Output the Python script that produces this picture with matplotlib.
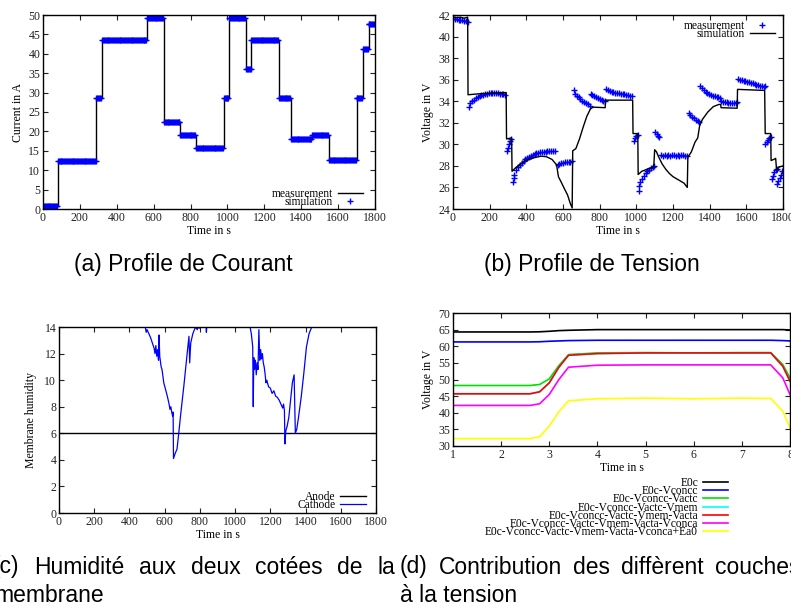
import numpy as np
import matplotlib
matplotlib.use("Agg")
import matplotlib.pyplot as plt
from matplotlib.lines import Line2D

# ---- (a) current profile: step table (start time, current) ----
step_t = [0, 80, 290, 320, 565, 655, 745, 830, 980, 1010, 1100, 1130,
          1280, 1345, 1460, 1550, 1700, 1735, 1765, 1800]
step_i = [0.8, 12.5, 28.5, 43.6, 49.3, 22.3, 19.0, 15.8, 28.5, 49.3, 36.0, 43.6,
          28.7, 18.0, 19.1, 12.6, 28.5, 41.3, 47.8, 47.8]
sim_sample_t = np.arange(0, 1800, 5)

# ---- (b) voltage profile ----
meas_t = [0, 10, 20, 30, 40, 50, 60, 70, 80,
          85, 95, 105, 115, 125, 135, 145, 155, 165, 175, 185, 195, 205, 215, 225, 235, 245, 255, 265, 275, 285,
          292, 298, 304, 310, 316,
          325, 330, 335, 345, 355, 365, 375, 385, 395, 405, 415, 425, 435, 445, 455, 465, 475, 485, 495, 505,
          515, 525, 535, 545, 555,
          570, 580, 590, 600, 610, 620, 630, 640, 650,
          658, 665, 675, 685, 695, 705, 715, 725, 735, 745,
          750, 760, 770, 780, 790, 800, 810, 820, 830,
          835, 845, 855, 865, 875, 885, 895, 905, 915, 925, 935, 945, 955, 965, 975,
          985, 992, 1000, 1008,
          1012, 1016, 1022, 1030, 1040, 1050, 1060, 1070, 1080, 1090, 1098,
          1102, 1110, 1118, 1126,
          1135, 1145, 1155, 1165, 1175, 1185, 1195, 1205, 1215, 1225, 1235, 1245, 1255, 1265, 1275,
          1285, 1295, 1305, 1315, 1325, 1335, 1340,
          1348, 1358, 1368, 1378, 1388, 1398, 1408, 1418, 1428, 1438, 1448, 1458,
          1462, 1472, 1482, 1492, 1502, 1512, 1522, 1532, 1542, 1550,
          1555, 1565, 1575, 1585, 1595, 1605, 1615, 1625, 1635, 1645, 1655, 1665, 1675, 1685, 1695, 1700,
          1703, 1710, 1718, 1726, 1733,
          1738, 1745, 1752, 1760, 1765,
          1768, 1775, 1782, 1790, 1797]
meas_v = [41.65, 41.6, 41.6, 41.55, 41.5, 41.5, 41.45, 41.4, 41.35,
          33.5, 33.8, 34.0, 34.15, 34.3, 34.4, 34.5, 34.55, 34.6, 34.65, 34.7, 34.75, 34.78, 34.8, 34.78, 34.75,
          34.72, 34.7, 34.68, 34.65, 34.6,
          29.4, 29.7, 30.0, 30.3, 30.5,
          26.5, 26.9, 27.2, 27.6, 27.9, 28.1, 28.3, 28.5, 28.6, 28.75, 28.85, 28.95, 29.0, 29.1, 29.15, 29.2,
          29.25, 29.3, 29.3, 29.32, 29.35, 29.35, 29.35, 29.38, 29.4,
          28.1, 28.2, 28.25, 28.3, 28.35, 28.35, 28.4, 28.4, 28.45,
          35.0, 34.7, 34.5, 34.35, 34.2, 34.05, 33.95, 33.85, 33.7, 33.6,
          34.7, 34.55, 34.45, 34.35, 34.3, 34.2, 34.15, 34.05, 34.0,
          35.15, 35.0, 34.95, 34.9, 34.85, 34.8, 34.8, 34.75, 34.7, 34.7, 34.65, 34.6, 34.55, 34.5, 34.45,
          30.3, 30.6, 30.75, 30.85,
          25.7, 26.1, 26.5, 26.8, 27.1, 27.35, 27.5, 27.65, 27.8, 27.9, 28.0,
          31.1, 30.95, 30.8, 30.65,
          29.05, 28.95, 29.0, 28.9, 29.0, 28.95, 29.0, 29.05, 28.95, 29.0, 28.95, 29.05, 29.0, 28.95, 28.9,
          32.9, 32.7, 32.55, 32.4, 32.25, 32.15, 32.1,
          35.4, 35.2, 35.0, 34.9, 34.8, 34.7, 34.6, 34.5, 34.45, 34.4, 34.35, 34.3,
          34.0, 33.95, 33.9, 33.9, 33.85, 33.85, 33.8, 33.8, 33.8, 33.9,
          36.1, 36.0, 35.95, 35.9, 35.85, 35.8, 35.75, 35.7, 35.65, 35.6, 35.55, 35.5, 35.45, 35.4, 35.35, 35.4,
          30.0, 30.2, 30.4, 30.55, 30.65,
          26.8, 27.1, 27.4, 27.6, 27.7,
          26.3, 26.6, 26.9, 27.2, 27.5]
simv_t = [0, 20, 40, 60, 80, 82, 150, 290, 292, 320, 322, 340, 370, 400, 440, 480, 510, 540, 565, 575,
          590, 610, 625, 640, 650, 653, 670, 690, 710, 730, 750, 765, 830, 832, 980, 982, 1008, 1010,
          1030, 1060, 1095, 1100, 1110, 1120, 1140, 1160, 1180, 1200, 1220, 1240, 1260, 1278, 1281,
          1300, 1320, 1335, 1345, 1360, 1390, 1420, 1450, 1460, 1462, 1550, 1552, 1700, 1703, 1733,
          1735, 1750, 1760, 1765, 1780, 1800]
simv_v = [41.8, 41.75, 41.8, 41.7, 41.8, 34.6, 34.7, 34.8, 30.5, 30.6, 27.5, 27.8, 28.2, 28.5, 28.75,
          28.9, 28.85, 28.6, 28.1, 27.0, 26.5, 25.8, 25.3, 24.5, 24.1, 29.4, 29.6, 30.5, 31.6, 32.6,
          33.3, 33.45, 33.4, 34.1, 34.1, 31.0, 31.0, 27.2, 27.5, 27.7, 27.9, 29.5, 29.3, 28.9, 28.2,
          27.7, 27.3, 27.0, 26.8, 26.6, 26.4, 26.0, 28.8, 29.3, 30.2, 30.6, 31.7, 32.3, 33.0, 33.5,
          33.7, 33.7, 33.4, 33.35, 35.1, 35.0, 31.0, 31.0, 28.5, 28.6, 28.7, 27.6, 27.9, 28.0]

# ---- (c) membrane humidity ----
anode_t = [0, 1800]
anode_h = [6, 6]
cath_t = [0, 1, 490, 495, 500, 510, 520, 530, 540, 545, 550, 555, 560, 565, 568, 572, 580, 585, 595,
          605, 615, 625, 630, 635, 640, 645, 648, 650, 660, 670, 680, 690, 700, 710, 720, 730, 738,
          742, 748, 760, 775, 785, 790, 795, 800, 835, 837, 839, 1085, 1092, 1100, 1103, 1106, 1110,
          1115, 1120, 1125, 1130, 1135, 1140, 1145, 1150, 1155, 1160, 1165, 1170, 1175, 1180, 1190,
          1200, 1210, 1220, 1230, 1240, 1250, 1260, 1270, 1275, 1280, 1283, 1288, 1295, 1305, 1315,
          1325, 1335, 1342, 1350, 1360, 1375, 1390, 1405, 1420, 1435, 1440, 1450, 1800]
cath_h = [0, 14, 14, 13.6, 13.8, 13.5, 13.2, 12.8, 12.4, 12.0, 12.6, 11.8, 12.3, 11.5, 13.4, 11.8,
          11.0, 10.8, 9.8, 9.3, 8.8, 8.2, 7.8, 8.0, 7.6, 7.3, 7.6, 4.1, 4.5, 4.8, 6.0, 7.3, 8.5, 9.7,
          11.0, 12.3, 13.3, 11.3, 12.8, 13.5, 14.0, 13.8, 14.2, 13.9, 14.0, 14.0, 13.6, 14.0, 14.0,
          13.5, 12.5, 8.0, 11.7, 10.8, 11.5, 10.4, 11.3, 10.8, 13.8, 11.5, 12.3, 11.6, 12.0, 11.3,
          11.0, 10.5, 9.8, 10.0, 9.5, 9.4, 9.0, 9.2, 8.8, 8.7, 8.5, 8.2, 7.9, 8.2, 7.7, 5.2, 6.2, 6.5,
          7.2, 8.5, 9.8, 10.4, 6.0, 6.3, 7.2, 8.7, 10.5, 12.5, 13.5, 14.0, 14.1, 14.0, 14.0]

# ---- (d) contributions ----
td = [1, 2, 2.6, 2.8, 3.0, 3.2, 3.4, 4, 5, 6, 7, 7.6, 7.85, 8]
e0c = [64.3, 64.3, 64.3, 64.35, 64.5, 64.7, 64.8, 65.0, 65.0, 65.0, 65.0, 65.0, 65.0, 64.9]
e0c_concc = [61.3, 61.3, 61.3, 61.35, 61.5, 61.6, 61.7, 61.8, 61.8, 61.8, 61.8, 61.8, 61.7, 61.6]
e0c_actc = [48.2, 48.2, 48.2, 48.5, 50.2, 54.2, 57.5, 58.0, 58.1, 58.0, 58.1, 58.1, 54.5, 50.5]
e0c_mem = [45.7, 45.7, 45.7, 46.3, 49.0, 53.7, 57.3, 57.8, 58.0, 58.0, 58.0, 58.0, 54.0, 49.5]
e0c_acta = [45.7, 45.7, 45.7, 46.3, 49.0, 53.7, 57.3, 57.8, 58.0, 58.0, 58.0, 58.0, 54.0, 49.5]
e0c_conca = [42.2, 42.2, 42.2, 42.7, 45.5, 50.0, 53.7, 54.3, 54.4, 54.4, 54.4, 54.4, 50.5, 45.5]
e0c_ea0 = [32.2, 32.2, 32.2, 32.8, 36.0, 40.3, 43.6, 44.2, 44.4, 44.2, 44.4, 44.3, 40.5, 35.5]
d_labels = ["E0c", "E0c-Vconcc", "E0c-Vconcc-Vactc", "E0c-Vconcc-Vactc-Vmem",
            "E0c-Vconcc-Vactc-Vmem-Vacta", "E0c-Vconcc-Vactc-Vmem-Vacta-Vconca",
            "E0c-Vconcc-Vactc-Vmem-Vacta-Vconca+Ea0"]
d_colors = ["black", "#0000ff", "#00e000", "#00ffff", "#ff0000", "#ff00ff", "#ffff00"]

W, H = 791, 607
SERIF = "Liberation Serif"
SANS = "Liberation Sans"
fig = plt.figure(figsize=(W / 100, H / 100), dpi=100)


def px_axes(l, r, t, b):
    return fig.add_axes([l / W, 1 - b / H, (r - l) / W, (b - t) / H])


def gp_style(ax):
    ax.tick_params(direction="in", top=True, right=True, length=3.5, width=0.8,
                   labelsize=8.5, colors="#222222", pad=2)
    for lab in ax.get_xticklabels() + ax.get_yticklabels():
        lab.set_family(SERIF)
    for s in ax.spines.values():
        s.set_linewidth(1.0)


leg_kw = dict(frameon=False, markerfirst=False, prop={"family": SERIF, "size": 8.3},
              handlelength=2.2, handletextpad=0.4, labelspacing=-0.33,
              borderaxespad=0, borderpad=0)

# (a)
ax = px_axes(43, 375, 15, 209)
ax.plot(step_t, step_i, color="black", lw=1.0, drawstyle="steps-post")
idx = np.searchsorted(step_t, sim_sample_t, side="right") - 1
ax.plot(sim_sample_t, np.array(step_i)[idx], "+", color="#0000ff", ms=4, mew=1)
ax.set_xlim(0, 1800)
ax.set_ylim(0, 50)
ax.set_xticks(range(0, 1801, 200))
ax.set_yticks(range(0, 51, 5))
ax.set_xlabel("Time in s", family=SERIF, fontsize=8.5, labelpad=1)
ax.set_ylabel("Current in A", family=SERIF, fontsize=8.5, labelpad=3)
ax.legend(handles=[Line2D([], [], color="black", lw=1),
                   Line2D([], [], ls="", marker="+", color="#0000ff", ms=4, mew=1)],
          labels=["measurement", "simulation"], loc="lower right",
          bbox_to_anchor=(0.964, 0.005), **leg_kw)
gp_style(ax)

# (b)
ax = px_axes(453, 783, 15, 209)
ax.plot(meas_t, meas_v, "+", color="#0000ff", ms=4.5, mew=1)
ax.plot(simv_t, simv_v, color="black", lw=1.0)
ax.set_xlim(0, 1800)
ax.set_ylim(24, 42)
ax.set_xticks(range(0, 1801, 200))
ax.set_yticks(range(24, 43, 2))
ax.set_xlabel("Time in s", family=SERIF, fontsize=8.5, labelpad=1)
ax.set_ylabel("Voltage in V", family=SERIF, fontsize=8.5, labelpad=3)
ax.legend(handles=[Line2D([], [], ls="", marker="+", color="#0000ff", ms=4, mew=1),
                   Line2D([], [], color="black", lw=1)],
          labels=["measurement", "simulation"], loc="upper right",
          bbox_to_anchor=(0.976, 0.974), **leg_kw)
gp_style(ax)

# (c)
ax = px_axes(59, 376, 327, 513)
ax.plot(anode_t, anode_h, color="black", lw=1.0, label="Anode")
ax.plot(cath_t, cath_h, color="#0000ff", lw=0.9, label="Cathode")
ax.set_xlim(0, 1800)
ax.set_ylim(0, 14)
ax.set_xticks(range(0, 1801, 200))
ax.set_yticks(range(0, 15, 2))
ax.set_xlabel("Time in s", family=SERIF, fontsize=8.5, labelpad=1)
ax.set_ylabel("Membrane humidity", family=SERIF, fontsize=8.5, labelpad=5)
ax.legend(loc="lower right", bbox_to_anchor=(0.968, 0.01), **leg_kw)
gp_style(ax)

# (d)
ax = px_axes(453, 790, 313, 446)
series = [e0c, e0c_concc, e0c_actc, e0c_mem, e0c_acta, e0c_conca, e0c_ea0]
handles = []
for vals, lab, col in zip(series, d_labels, d_colors):
    h, = ax.plot(td, vals, color=col, lw=1.2, label=lab)
    handles.append(h)
ax.set_xlim(1, 8)
ax.set_ylim(30, 70)
ax.set_xticks(range(1, 9))
ax.set_yticks(range(30, 71, 5))
ax.set_xlabel("Time in s", family=SERIF, fontsize=8.5, labelpad=1)
ax.set_ylabel("Voltage in V", family=SERIF, fontsize=8.5, labelpad=3)
gp_style(ax)
fig.legend(handles=handles, labels=d_labels, loc="upper right",
           bbox_to_anchor=(728 / W, 1 - 477 / H), **leg_kw)

# captions
cap = dict(family=SANS, fontsize=16.5, va="center")
fig.text(183 / W, 1 - 265 / H, "(a) Profile de Courant", ha="center", **cap)
fig.text(592 / W, 1 - 265 / H, "(b) Profile de Tension", ha="center", **cap)


def justified(words, x0, x1, y):
    texts = [fig.text(0, 1 - y / H, w, ha="left", **cap) for w in words]
    fig.canvas.draw()
    r = fig.canvas.get_renderer()
    widths = [t.get_window_extent(r).width for t in texts]
    gap = (x1 - x0 - sum(widths)) / (len(words) - 1)
    x = x0
    for t, w in zip(texts, widths):
        t.set_x(x / W)
        x += w + gap


justified(["(c)", "Humidité", "aux", "deux", "cotées", "de", "la"], -7, 395, 567)
justified(["(d)", "Contribution", "des", "diffèrent", "couches"], 400, 800, 567)
fig.text(-6 / W, 1 - 596 / H, "membrane", ha="left", **cap)
fig.text(400 / W, 1 - 596 / H, "à la tension", ha="left", **cap)

fig.savefig("out.png", dpi=100)
